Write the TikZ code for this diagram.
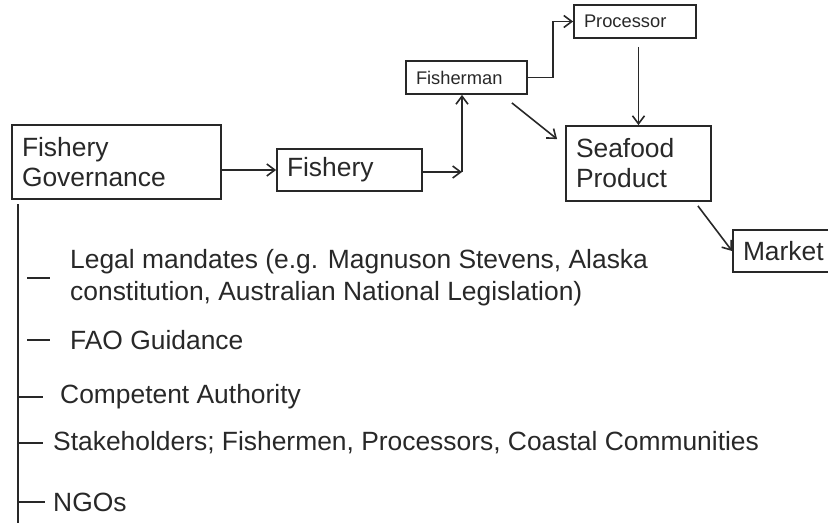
\documentclass[tikz,border=0pt]{standalone}
\usepackage{fontspec}
\setmainfont{Liberation Sans}
\usetikzlibrary{arrows.meta, positioning}
\definecolor{ink}{RGB}{40,40,40}

\begin{document}
\begin{tikzpicture}[x=1pt, y=-1pt,
  box/.style={draw=ink, line width=1.8pt, inner xsep=10pt, inner ysep=0pt,
              align=left, text=ink, font=\fontsize{26.4}{30}\selectfont},
  smallbox/.style={box, font=\fontsize{18.3}{21}\selectfont, minimum height=33pt},
  arr/.style={-{Straight Barb[length=8pt, width=12pt]}, line width=1.6pt, draw=ink},
  item/.style={anchor=west, inner sep=0pt, align=left, text=ink,
               font=\fontsize{26.4}{32}\selectfont},
  tick/.style={line width=1.6pt, draw=ink}
]
  \useasboundingbox (0,0) rectangle (828,523);

  % chain from governance to market
  \node[box, text width=189pt, minimum height=74pt] (gov) at (116.5,162) {Fishery\\Governance};
  \node[box, text width=125pt, minimum height=42pt] (fishery) at (349.5,170) {Fishery};
  \node[smallbox, text width=101pt] (fisherman) at (466.5,77.5) {Fisherman};
  \node[smallbox, text width=102pt] (processor) at (635,21.5) {Processor};
  \node[box, text width=125pt, minimum height=75pt] (seafood) at (638.5,163.5) {Seafood\\Product};
  \node[box, text width=82pt, minimum height=42pt] (market) at (784,251) {Market};

  \coordinate (fork) at (462,172);
  \draw[arr] (fishery.west -| gov.east) -- (fishery.west);
  \draw[arr] (fishery.east |- fork) -- (fork);
  \draw[arr] (fork) -- (fork |- fisherman.south);
  \draw[arr] (fisherman.east) -- ++(25,0) |- (processor.west);
  \draw[arr, shorten <=8pt] (seafood.north |- processor.south) -- (seafood.north);
  \draw[arr] ([xshift=-16pt,yshift=-8pt]fisherman.south east)
    -- ([xshift=-8pt,yshift=-14pt]seafood.north west);
  \draw[arr] ([xshift=-14pt,yshift=-4pt]seafood.south east) -- (market.west);

  % what governance is made of
  \coordinate (trunk) at (18,204);
  \draw[tick] (trunk) -- (18,523);

  \node[item] (legal) at (70,278) {Legal mandates (e.g. Magnuson Stevens, Alaska\\constitution, Australian National Legislation)};
  \node[item] (fao) at (70,340) {FAO Guidance};
  \node[item] (authority) at (60,397) {Competent Authority};
  \node[item] (stake) at (53,443) {Stakeholders; Fishermen, Processors, Coastal Communities};
  \node[item] (ngo) at (53,502) {NGOs};

  \draw[tick] ([xshift=-43pt]legal.west) -- ++(23,0);
  \draw[tick] ([xshift=-43pt]fao.west) -- ++(23,0);
  \draw[tick] (trunk |- authority.west) -- ++(25,0);
  \draw[tick] (trunk |- stake.west) -- ++(25,0);
  \draw[tick] (trunk |- ngo.west) -- ++(27,0);
\end{tikzpicture}
\end{document}
